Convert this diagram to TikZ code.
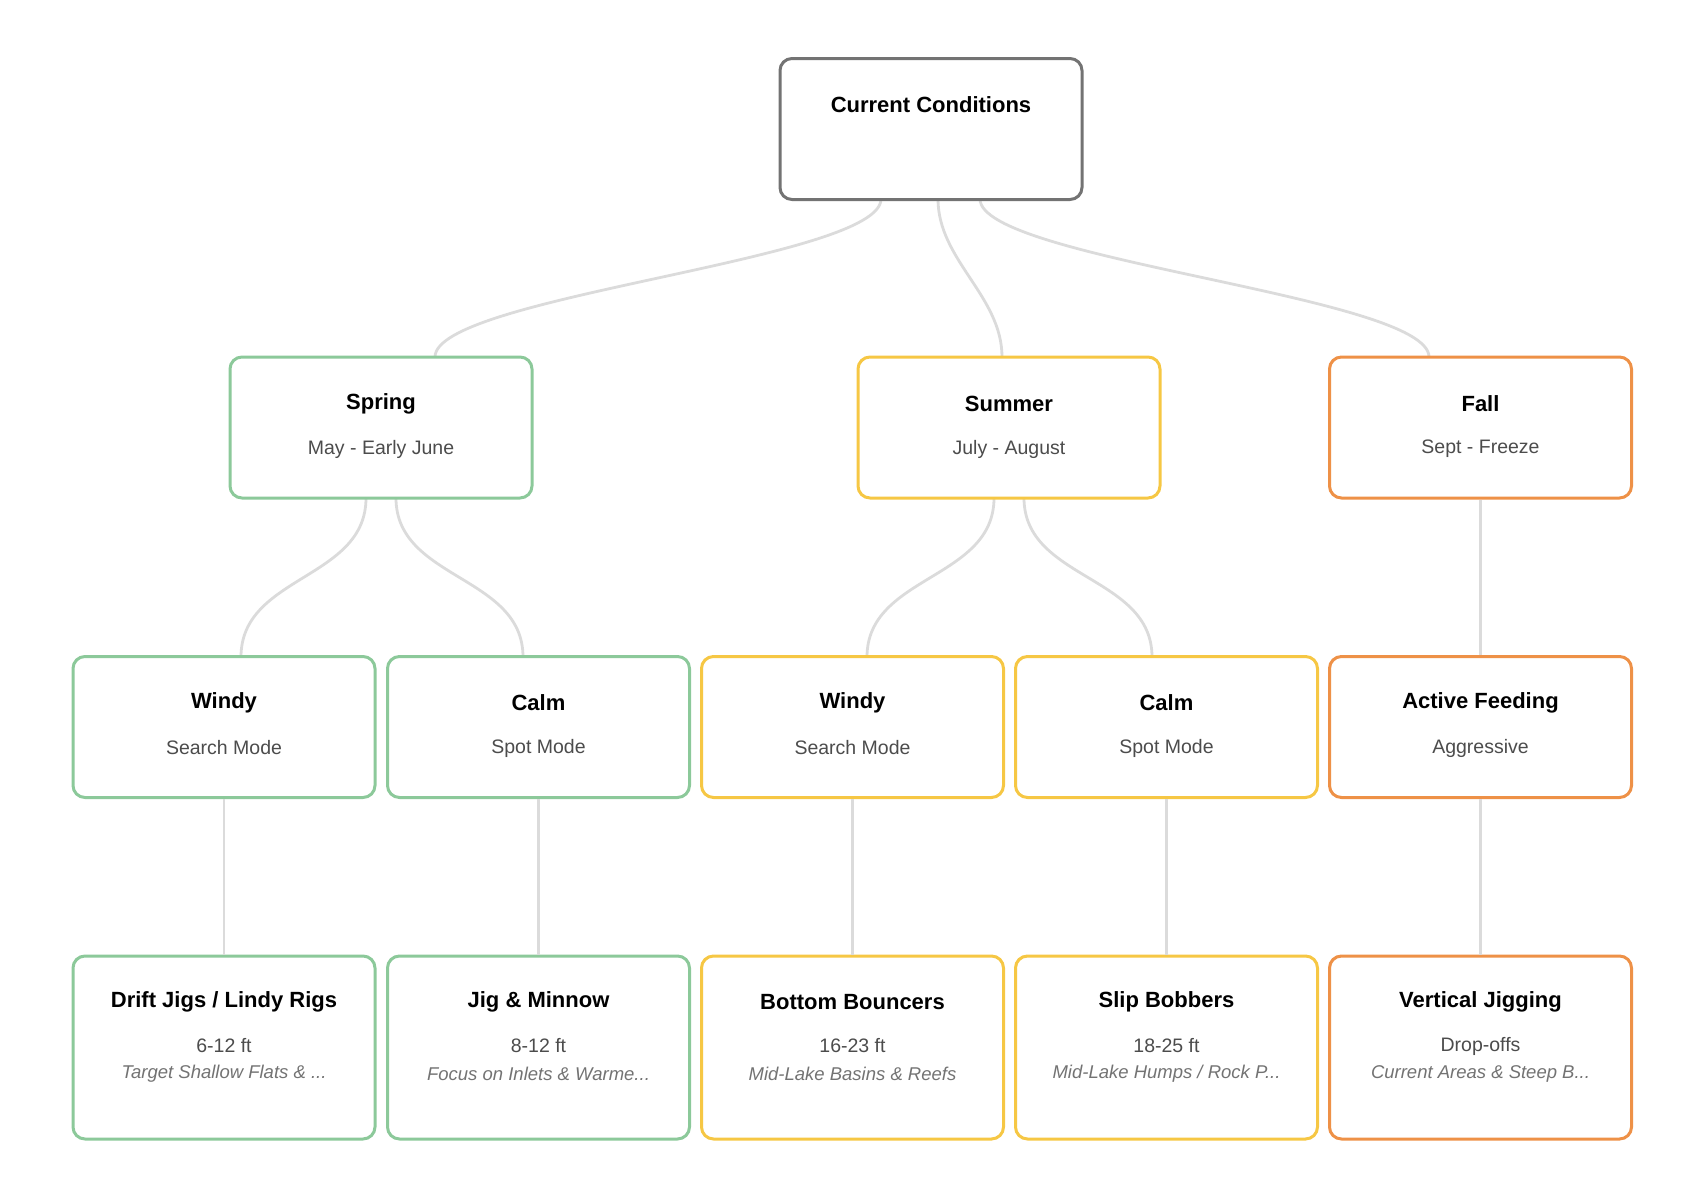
\documentclass[tikz,border=0pt]{standalone}
\usepackage{fontspec}
\setmainfont{Liberation Sans}
\begin{document}
\begin{tikzpicture}[x=1pt,y=-1pt,
 box/.style={draw=#1,line width=3pt,rounded corners=12pt,fill=white,minimum width=302pt,inner sep=0pt},
 r2/.style={minimum height=141pt},
 r4/.style={minimum height=183pt},
 ttl/.style={font=\bfseries\fontsize{22}{26}\selectfont,text=black},
 sub/.style={font=\fontsize{19.5}{23}\selectfont,text=black!70},
 it/.style={font=\itshape\fontsize{18.5}{22}\selectfont,text=black!55},
 edge/.style={draw=black!14,line width=2.8pt}]
\definecolor{gr}{HTML}{8CC99A}\definecolor{ye}{HTML}{F6C744}\definecolor{orr}{HTML}{EE9147}
\useasboundingbox (0,0) rectangle (1708,1176);
% edges
\coordinate (r1) at (881,199);\coordinate (r2) at (938,199);\coordinate (r3) at (980,199);
\coordinate (sp) at (435,357);\coordinate (su) at (1002,357);\coordinate (fa) at (1429,357);
\draw[edge] (r1) .. controls (881,260) and (435,296) .. (sp);
\draw[edge] (r2) .. controls (938,260) and (1002,296) .. (su);
\draw[edge] (r3) .. controls (980,260) and (1429,296) .. (fa);
\coordinate (sb1) at (366,498);\coordinate (sb2) at (396,498);
\coordinate (ub1) at (994,498);\coordinate (ub2) at (1024,498);
\coordinate (w1) at (241,657);\coordinate (c1) at (523,657);
\coordinate (w2) at (867,657);\coordinate (c2) at (1152,657);
\draw[edge] (sb1) .. controls (366,580) and (241,575) .. (w1);
\draw[edge] (sb2) .. controls (396,580) and (523,575) .. (c1);
\draw[edge] (ub1) .. controls (994,580) and (867,575) .. (w2);
\draw[edge] (ub2) .. controls (1024,580) and (1152,575) .. (c2);
% boxes
\node[box=black!55,r2] (root) at (931,129) {};
\node[box=gr,r2] (spring) at (381,427.5) {};
\node[box=ye,r2] (summer) at (1009,427.5) {};
\node[box=orr,r2] (fall) at (1480.5,427.5) {};
\foreach \n/\x/\c in {a/224/gr,b/538.5/gr,c/852.5/ye,d/1166.5/ye,e/1480.5/orr}{
 \node[box=\c,r2] (m\n) at (\x,727) {};
 \node[box=\c,r4] (l\n) at (\x,1047.5) {};
}
\draw[edge] (fall.south) -- (me.north);
\foreach \n in {a,b,c,d,e}{\draw[edge] (m\n.south) -- (l\n.north);}
% texts
\node[ttl] (t0) at (931,105) {Current Conditions};
\node[ttl] (t1) at (381,404) {Spring};\node[sub] (s1) at (381,449) {May - Early June};
\node[ttl] (t2) at (1009,404) {Summer};\node[sub] (s2) at (1009,449) {July - August};
\node[ttl] (t3) at (1480.5,404) {Fall};\node[sub] (s3) at (1480.5,449) {Sept - Freeze};
\foreach \x/\a/\b [count=\i] in {224/Windy/Search Mode,538.5/Calm/Spot Mode,852.5/Windy/Search Mode,1166.5/Calm/Spot Mode,1480.5/Active Feeding/Aggressive}{
 \node[ttl] (mt\i) at (\x,703) {\a};\node[sub] (ms\i) at (\x,748) {\b};}
\node[ttl] (lt1) at (224,1002) {Drift Jigs / Lindy Rigs};
\node[sub] (ls1) at (224,1046) {6-12 ft};
\node[it] (li1) at (224,1074) {Target Shallow Flats \& ...};
\node[ttl] (lt2) at (538.5,1002) {Jig \& Minnow};
\node[sub] (ls2) at (538.5,1046) {8-12 ft};
\node[it] (li2) at (538.5,1074) {Focus on Inlets \& Warme...};
\node[ttl] (lt3) at (852.5,1002) {Bottom Bouncers};
\node[sub] (ls3) at (852.5,1046) {16-23 ft};
\node[it] (li3) at (852.5,1074) {Mid-Lake Basins \& Reefs};
\node[ttl] (lt4) at (1166.5,1002) {Slip Bobbers};
\node[sub] (ls4) at (1166.5,1046) {18-25 ft};
\node[it] (li4) at (1166.5,1074) {Mid-Lake Humps / Rock P...};
\node[ttl] (lt5) at (1480.5,1002) {Vertical Jigging};
\node[sub] (ls5) at (1480.5,1046) {Drop-offs};
\node[it] (li5) at (1480.5,1074) {Current Areas \& Steep B...};
\end{tikzpicture}
\end{document}
